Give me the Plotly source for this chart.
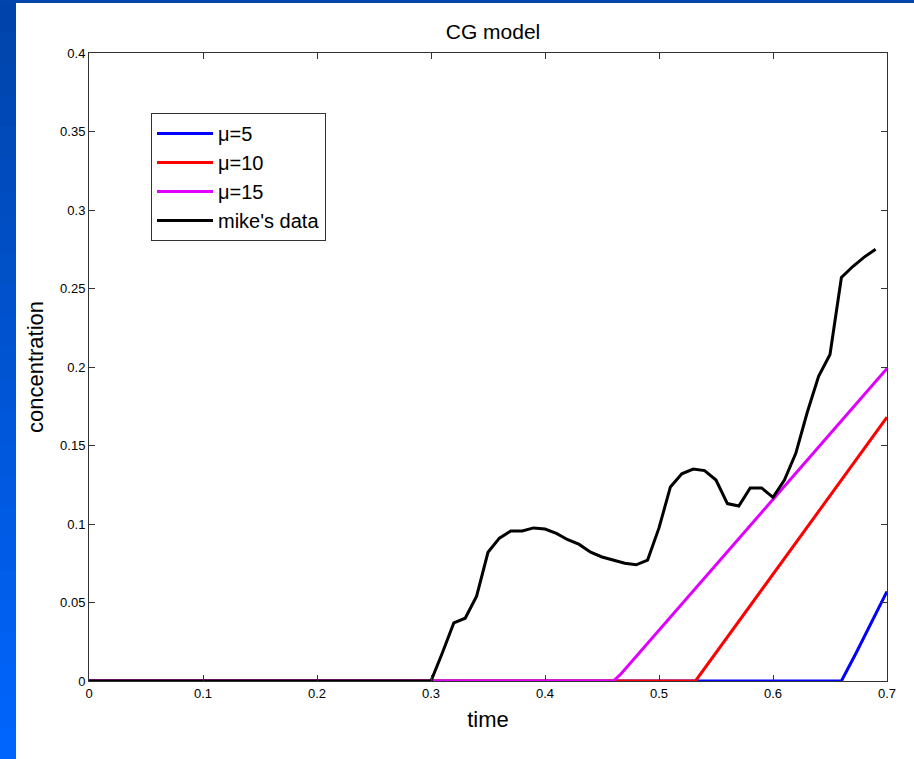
import plotly.graph_objects as go

# ---- data ----
t_mike = [0.0, 0.30, 0.31, 0.32, 0.33, 0.34, 0.35, 0.36, 0.37, 0.38, 0.39, 0.40,
          0.41, 0.42, 0.43, 0.44, 0.45, 0.46, 0.47, 0.48, 0.49, 0.50, 0.51, 0.52,
          0.53, 0.54, 0.55, 0.56, 0.57, 0.58, 0.59, 0.60, 0.61, 0.62, 0.63, 0.64,
          0.65, 0.66, 0.67, 0.68, 0.69]
c_mike = [0.0, 0.0, 0.018, 0.037, 0.040, 0.054, 0.082, 0.091, 0.0955, 0.0955, 0.0975, 0.0968,
          0.094, 0.090, 0.087, 0.082, 0.079, 0.077, 0.075, 0.074, 0.077, 0.0975, 0.1236, 0.132,
          0.135, 0.134, 0.128, 0.113, 0.1115, 0.123, 0.123, 0.117, 0.128, 0.145, 0.171, 0.194,
          0.208, 0.257, 0.264, 0.270, 0.275]

t_mu5 = [0.0, 0.66, 0.673, 0.70]
c_mu5 = [0.0, 0.0, 0.018, 0.057]

t_mu10 = [0.0, 0.532, 0.70]
c_mu10 = [0.0, 0.0, 0.168]

t_mu15 = [0.0, 0.46, 0.466, 0.70]
c_mu15 = [0.0, 0.0, 0.004, 0.199]

x_ticks = [0, 0.1, 0.2, 0.3, 0.4, 0.5, 0.6, 0.7]
x_ticklabels = ["0", "0.1", "0.2", "0.3", "0.4", "0.5", "0.6", "0.7"]
y_ticks = [0, 0.05, 0.1, 0.15, 0.2, 0.25, 0.3, 0.35, 0.4]
y_ticklabels = ["0", "0.05", "0.1", "0.15", "0.2", "0.25", "0.3", "0.35", "0.4"]

W, H = 914, 759
L, R, T, B = 89, 27, 53, 78

fig = go.Figure()
fig.add_trace(go.Scatter(x=t_mu5, y=c_mu5, mode="lines", name="μ=5",
                         line=dict(color="#0000FF", width=3)))
fig.add_trace(go.Scatter(x=t_mu10, y=c_mu10, mode="lines", name="μ=10",
                         line=dict(color="#FF0000", width=3)))
fig.add_trace(go.Scatter(x=t_mu15, y=c_mu15, mode="lines", name="μ=15",
                         line=dict(color="#E000FF", width=3)))
fig.add_trace(go.Scatter(x=t_mike, y=c_mike, mode="lines", name="mike's data",
                         line=dict(color="#000000", width=3)))

# blue slide frame (left gradient strip + top strip)
pw = W - L - R
ph = H - T - B
def px2x(px):
    return (px - L) / pw
def py2y(py):
    return (H - B - py) / ph

shapes = []
n = 24
top_rgb = (0, 68, 170)
bot_rgb = (0, 102, 255)
for i in range(n):
    y0p = H * i / n
    y1p = H * (i + 1) / n
    f = (i + 0.5) / n
    r = int(top_rgb[0] + (bot_rgb[0] - top_rgb[0]) * f)
    g = int(top_rgb[1] + (bot_rgb[1] - top_rgb[1]) * f)
    b = int(top_rgb[2] + (bot_rgb[2] - top_rgb[2]) * f)
    shapes.append(dict(type="rect", xref="paper", yref="paper",
                       x0=px2x(0), x1=px2x(16), y0=py2y(y1p + 1), y1=py2y(y0p),
                       fillcolor=f"rgb({r},{g},{b})", line=dict(width=0), layer="above"))
shapes.append(dict(type="rect", xref="paper", yref="paper",
                   x0=px2x(0), x1=px2x(W), y0=py2y(3), y1=py2y(0),
                   fillcolor="rgb(0,70,172)", line=dict(width=0), layer="above"))

font_main = "Liberation Sans, Arial, sans-serif"
font_tick = "Liberation Sans, Arial, Helvetica, sans-serif"

fig.update_layout(
    width=W, height=H,
    margin=dict(l=L, r=R, t=T, b=B, pad=0),
    paper_bgcolor="white", plot_bgcolor="white",
    title=dict(text="CG model", x=px2x(493), xref="paper", xanchor="center",
               y=1 - 32 / H, yanchor="middle",
               font=dict(family=font_main, size=21, color="black")),
    xaxis=dict(range=[0, 0.7], tickvals=x_ticks, ticktext=x_ticklabels,
               ticks="inside", ticklen=6, tickcolor="#333", showline=True,
               linecolor="#333", linewidth=1, mirror="ticks", showgrid=False,
               zeroline=False,
               tickfont=dict(family=font_tick, size=13, color="black"),
               title=dict(text="time", font=dict(family=font_main, size=22, color="black"),
                          standoff=12)),
    yaxis=dict(range=[0, 0.4], tickvals=y_ticks, ticktext=y_ticklabels,
               ticks="inside", ticklen=6, tickcolor="#333", showline=True,
               linecolor="#333", linewidth=1, mirror="ticks", showgrid=False,
               zeroline=False,
               tickfont=dict(family=font_tick, size=13, color="black"),
               title=dict(text="concentration", font=dict(family=font_main, size=22, color="black"),
                          standoff=10)),
    legend=dict(x=px2x(151), y=py2y(113), xanchor="left", yanchor="top",
                bgcolor="white", bordercolor="#333", borderwidth=1,
                font=dict(family=font_tick, size=20, color="black"),
                itemwidth=56, entrywidth=130, tracegroupgap=0),
    shapes=shapes,
    showlegend=True,
)

fig.write_html("out.html")
